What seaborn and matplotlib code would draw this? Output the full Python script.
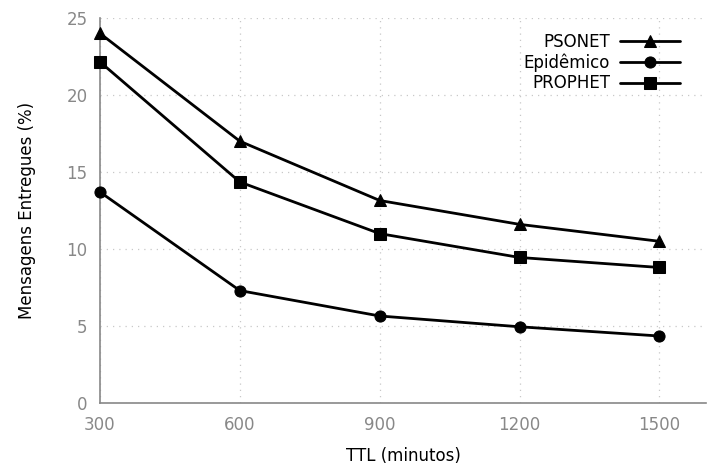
import matplotlib
matplotlib.use("Agg")
import matplotlib.pyplot as plt
import seaborn as sns
import pandas as pd

ttl = [300, 600, 900, 1200, 1500]
psonet = [24.0, 17.0, 13.15, 11.6, 10.5]
epidemico = [13.7, 7.3, 5.65, 4.95, 4.35]
prophet = [22.15, 14.35, 11.0, 9.45, 8.8]
series_names = ["PSONET", "Epidêmico", "PROPHET"]
markers = ["^", "o", "s"]
xticks = [300, 600, 900, 1200, 1500]
yticks = [0, 5, 10, 15, 20, 25]

df = pd.DataFrame({
    "TTL": ttl * 3,
    "val": psonet + epidemico + prophet,
    "serie": sum([[n] * len(ttl) for n in series_names], []),
})

sns.set_style("white")
plt.rcParams['font.family'] = ['DejaVu Sans']
plt.rcParams['text.color'] = 'black'
plt.rcParams['axes.labelcolor'] = 'black'
fig = plt.figure(figsize=(7.11, 4.68), dpi=100)
ax = fig.add_axes([100/711, 1-403/468, 606/711, 385/468])

for name, m in zip(series_names, markers):
    d = df[df.serie == name]
    sns.lineplot(data=d, x="TTL", y="val", ax=ax, color="black", lw=2.0,
                 marker=m, markersize=8, markeredgecolor="black", label=name,
                 clip_on=False, zorder=5)

ax.set_xlim(300, 1600)
ax.set_ylim(0, 25)
ax.set_xticks(xticks)
ax.set_yticks(yticks)
ax.grid(True, color="#c8c8c8", linestyle=(0, (1, 4)), lw=0.9)
for s in ["top", "right"]:
    ax.spines[s].set_visible(False)
for s in ["left", "bottom"]:
    ax.spines[s].set_color("#888888")
    ax.spines[s].set_linewidth(1.2)
ax.tick_params(direction="in", length=5, color="#888888", labelcolor="#888888",
               labelsize=12, pad=9)
ax.set_xlabel("TTL (minutos)", fontsize=12, labelpad=10)
ax.set_ylabel("Mensagens Entregues (%)", fontsize=12, labelpad=22)

leg = ax.legend(loc="upper right", bbox_to_anchor=(0.982, 1.0), frameon=False,
                markerfirst=False, fontsize=12, handlelength=3.6,
                labelspacing=0.15, handletextpad=0.6)
for t in leg.get_texts():
    t.set_ha("right")
    t.set_color("black")
leg._legend_box.align = "right"

fig.savefig("out.png", dpi=100)
